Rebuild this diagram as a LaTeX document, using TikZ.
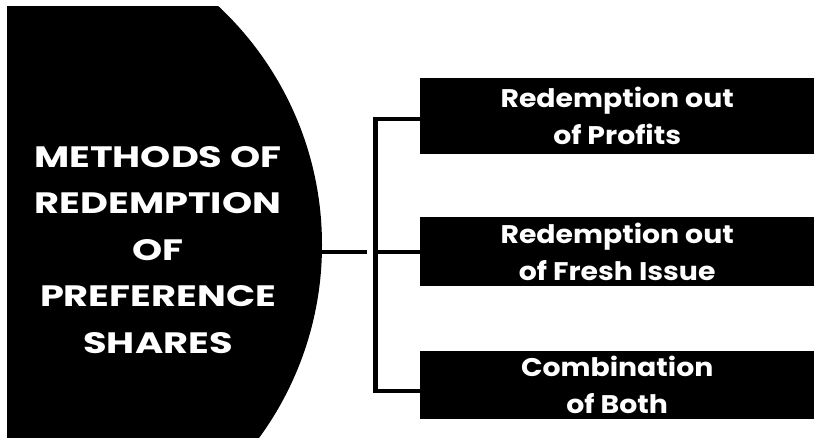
\documentclass[tikz,border=0pt]{standalone}
\usepackage{fontspec}
\setmainfont{Poppins}
\newfontfamily\titlefont{Poppins}[FakeStretch=1.3]
\newfontfamily\boxfont{Poppins}[FakeStretch=1.11]
\begin{document}
\begin{tikzpicture}[x=1pt,y=-1pt,
  link/.style={line width=4.5pt,black},
  methodbox/.style={fill=black,draw=none,text=white,align=center,
    minimum width=394pt,inner sep=0pt,anchor=west,
    font=\boxfont\fontsize{25.5}{37}\selectfont\bfseries},
  titletext/.style={text=white,align=center,inner sep=0pt,
    font=\titlefont\fontsize{29.5}{46.5}\selectfont\bfseries}]
  \useasboundingbox (0,0) rectangle (814,437);
  \fill[white] (0,0) rectangle (814,437);

  % large black disc, cut off by the page on the left and bottom
  \begin{scope}
    \clip (7,6) rectangle (814,437);
    \fill[black] (-5,245) circle[radius=327pt];
  \end{scope}
  \node[titletext] (title) at (158,250)
    {METHODS OF\\REDEMPTION\\OF\\PREFERENCE\\SHARES};
  \coordinate (hub) at (322,252);

  % the three methods
  \node[methodbox,minimum height=76pt] (b1) at (420,116)
    {Redemption out\\of Profits};
  \node[methodbox,minimum height=69pt] (b2) at (420,251.5)
    {Redemption out\\of Fresh Issue};
  \node[methodbox,minimum height=68pt] (b3) at (420,385)
    {Combination\\of Both};

  % bracket joining the disc to the boxes
  \coordinate (j1) at (375.5,119);
  \coordinate (j2) at (375.5,252);
  \coordinate (j3) at (375.5,391);
  \draw[link] (hub) -- (367,252);
  \draw[link] (j1 -| b1.west) -- (j1) -- (j3) -- (j3 -| b3.west);
  \draw[link] (j2) -- (j2 -| b2.west);
\end{tikzpicture}
\end{document}
